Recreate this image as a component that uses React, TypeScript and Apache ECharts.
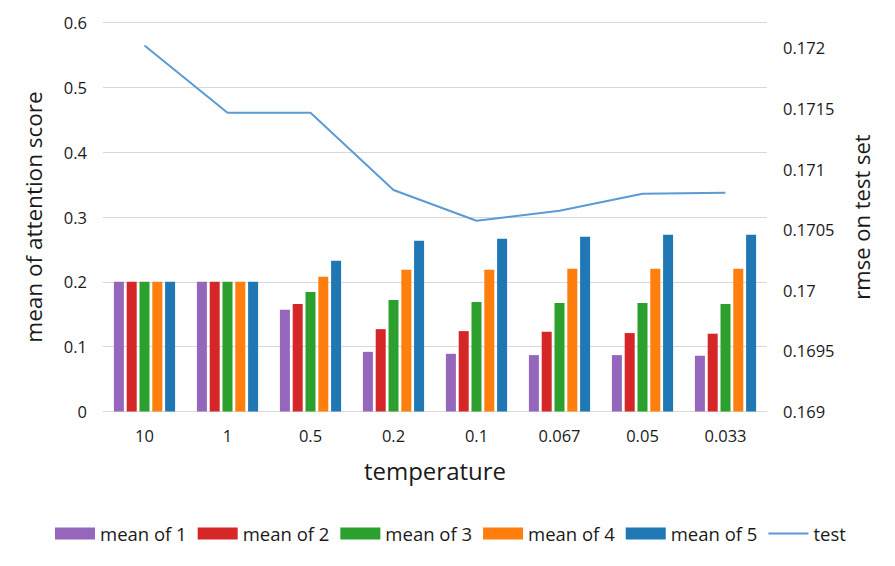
import React, { useEffect, useRef } from 'react';
import * as echarts from 'echarts';

const categories = ['10', '1', '0.5', '0.2', '0.1', '0.067', '0.05', '0.033'];
const meanOf1 = [0.2, 0.2, 0.157, 0.092, 0.089, 0.087, 0.087, 0.086];
const meanOf2 = [0.2, 0.2, 0.166, 0.127, 0.124, 0.123, 0.121, 0.12];
const meanOf3 = [0.2, 0.2, 0.1845, 0.172, 0.169, 0.1675, 0.1675, 0.166];
const meanOf4 = [0.2, 0.2, 0.208, 0.2186, 0.2186, 0.22, 0.22, 0.22];
const meanOf5 = [0.2, 0.2, 0.2325, 0.2634, 0.2665, 0.2696, 0.2727, 0.2727];
const testRmse = [0.17202, 0.171465, 0.171465, 0.170828, 0.170574, 0.170657, 0.170797, 0.170805];

const barNames = ['mean of 1', 'mean of 2', 'mean of 3', 'mean of 4', 'mean of 5'];
const barData = [meanOf1, meanOf2, meanOf3, meanOf4, meanOf5];
const barColors = ['#9467bd', '#d62728', '#2ca02c', '#ff7f0e', '#1f77b4'];
const lineName = 'test';
const lineColor = '#5b9bd5';

const FONT = 'Open Sans';
const TEXT = '#1a1a1a';

export default function App() {
  const ref = useRef<HTMLDivElement>(null);
  useEffect(() => {
    document.body.style.margin = '0';
    if (!ref.current) return;
    const chart = echarts.init(ref.current, null, { renderer: 'svg' });
    const series: any[] = barData.map((d, i) => ({
      name: barNames[i],
      type: 'bar',
      yAxisIndex: 0,
      data: d,
      barWidth: 10,
      barGap: '28%',
      itemStyle: { color: barColors[i] },
    }));
    series.push({
      name: lineName,
      type: 'line',
      yAxisIndex: 1,
      data: testRmse,
      symbol: 'none',
      lineStyle: { color: lineColor, width: 2 },
      itemStyle: { color: lineColor },
    });
    chart.setOption({
      animation: false,
      textStyle: { fontFamily: FONT },
      grid: { left: 103, right: 128, top: 22.5, bottom: 154.5, containLabel: false },
      legend: {
        left: 55,
        top: 524,
        padding: 0,
        itemWidth: 40,
        itemHeight: 12,
        itemGap: 11,
        textStyle: { fontFamily: FONT, fontSize: 18.5, color: TEXT },
        data: [
          ...barNames.map((n) => ({ name: n, icon: 'rect' })),
          { name: lineName, icon: 'path://M0,0H40V2H0Z' },
        ],
      },
      xAxis: {
        type: 'category',
        data: categories,
        name: 'temperature',
        nameLocation: 'middle',
        nameGap: 47,
        nameTextStyle: { fontFamily: FONT, fontSize: 24, color: TEXT },
        axisLine: { show: true, lineStyle: { color: '#d9d9d9', width: 1 } },
        axisTick: { show: false },
        axisLabel: { margin: 15, fontFamily: FONT, fontSize: 16.5, color: TEXT },
      },
      yAxis: [
        {
          type: 'value',
          min: 0,
          max: 0.6,
          interval: 0.1,
          name: 'mean of attention score',
          nameLocation: 'middle',
          nameRotate: 90,
          nameGap: 58,
          nameTextStyle: { fontFamily: FONT, fontSize: 22.5, color: TEXT },
          axisLine: { show: false },
          axisTick: { show: false },
          axisLabel: { margin: 16, fontFamily: FONT, fontSize: 16.5, color: TEXT },
          splitLine: { lineStyle: { color: '#d9d9d9', width: 1 } },
        },
        {
          type: 'value',
          position: 'right',
          min: 0.169,
          max: 0.17221,
          interval: 0.0005,
          name: 'rmse on test set',
          nameLocation: 'middle',
          nameRotate: 90,
          nameGap: 83,
          nameTextStyle: { fontFamily: FONT, fontSize: 22, color: TEXT },
          axisLine: { show: false },
          axisTick: { show: false },
          splitLine: { show: false },
          axisLabel: {
            margin: 16,
            fontFamily: FONT,
            fontSize: 16.5,
            color: TEXT,
            formatter: (v: number) => (v > 0.17201 ? '' : String(Math.round(v * 10000) / 10000)),
          },
        },
      ],
      series,
    });
    return () => chart.dispose();
  }, []);
  return <div ref={ref} style={{ width: 895, height: 566 }} />;
}
